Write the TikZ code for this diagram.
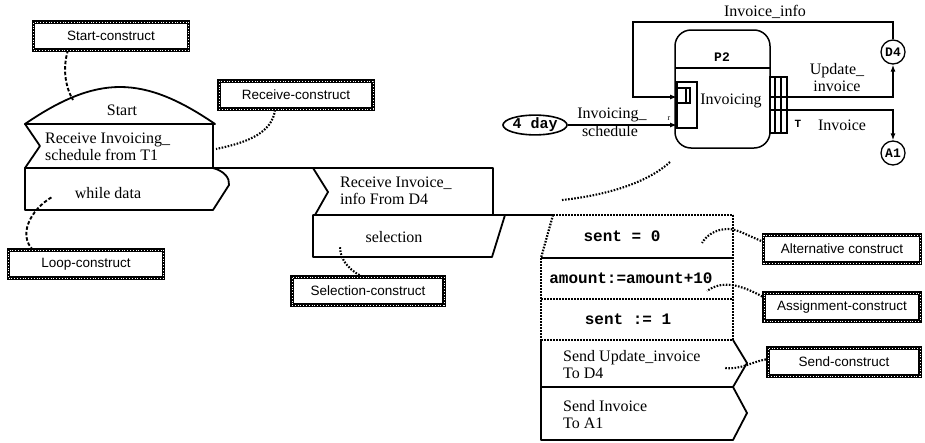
\documentclass[tikz,border=0pt]{standalone}
\usepackage{fontspec}
\setmainfont{Liberation Serif}
\setsansfont{Liberation Sans}
\setmonofont{Liberation Mono}
\usetikzlibrary{arrows.meta,shapes.geometric}
\begin{document}
\begin{tikzpicture}[x=1pt,y=-1pt,
  txt/.style={font=\fontsize{16}{17}\selectfont, inner sep=0pt, align=left},
  ctxt/.style={font=\fontsize{16}{17}\selectfont, inner sep=0pt, align=center},
  code/.style={font=\fontsize{16}{17}\selectfont\ttfamily\bfseries, inner sep=0pt},
  lbl/.style={draw=black, line width=3.8pt, fill=white, font=\fontsize{13.5}{15}\selectfont\sffamily, inner sep=0pt, minimum width=#1, minimum height=28pt, postaction={draw=white, line width=0.9pt, dash pattern=on 0.9pt off 1.9pt}},
  shp/.style={draw=black, line width=1.8pt, line join=round},
  dotbox/.style={draw=black, line width=2.2pt, dash pattern=on 1.6pt off 1.4pt},
  dotcon/.style={draw=black, line width=2.1pt, dash pattern=on 1.6pt off 1.5pt},
  dashcon/.style={draw=black, line width=1.9pt, dash pattern=on 3.5pt off 2pt},
  flow/.style={draw=black, line width=1.3pt},
  tip/.style={-{Latex[length=7pt,width=5pt]}}
]
\useasboundingbox[fill=white] (0,0) rectangle (925,442);

% ---------- left SDL-like blocks ----------
\draw[shp] (25,124) .. controls (60,100) and (90,87) .. (120,87) .. controls (150,87) and (180,100) .. (215,124) -- cycle;
\node[ctxt] (tstart) at (122,110) {Start};
\draw[shp] (25,124) -- (213,124) -- (213,168) -- (25,168) -- (40,146) -- cycle;
\node[txt, anchor=west] (trecv1) at (45,147) {Receive Invoicing\_\\schedule from T1};
\draw[shp] (25,168) -- (213,168) .. controls (224,171) and (230,178) .. (229,185) -- (213,210) -- (25,210) -- cycle;
\node[ctxt] (twhile) at (108,193) {while data};

\coordinate (sp1a) at (213,168);
\coordinate (sp1b) at (313,168);
\draw[shp] (sp1a) -- (sp1b);

\draw[shp] (313,168) -- (493,168) -- (493,215) -- (315,215) -- (328,192) -- cycle;
\node[txt, anchor=west] (trecv2) at (340,191) {Receive Invoice\_\\info From D4};
\draw[shp] (313,215) -- (505,215) -- (492,257) -- (313,257) -- cycle;
\node[ctxt] (tsel) at (394,237) {selection};

\coordinate (sp2a) at (505,215);
\coordinate (sp2b) at (553,215);
\draw[shp] (sp2a) -- (sp2b);

% alternative region
\draw[dotbox] (553,215) -- (733,215);
\draw[dotbox] (553,215) -- (541,258);
\draw[shp] (541,258) -- (733,258);
\draw[dotbox] (733,215) -- (733,340);
\draw[dotbox] (541,258) -- (541,340);
\draw[dotbox] (541,299) -- (733,299);
\draw[dotbox] (541,340) -- (733,340);
\node[code] (talt) at (622,236) {sent = 0};
\node[code] (tasg) at (631,278) {amount:=amount+10};
\node[code] (tset) at (628,319) {sent := 1};

% send blocks
\draw[shp] (733,340) -- (747,363) -- (733,387) -- (541,387) -- (541,340);
\draw[shp] (733,387) -- (747,413) -- (733,440) -- (541,440) -- (541,387);
\node[txt, anchor=west] (tsend1) at (563,365) {Send Update\_invoice\\To D4};
\node[txt, anchor=west] (tsend2) at (563,415) {Send Invoice\\To A1};

% ---------- DFD ----------
\node[draw, rounded corners=16pt, line width=1.5pt, minimum width=95pt, minimum height=118pt, inner sep=0pt] (p2) at (722.5,89) {};
\draw[flow] (675,68) -- (770,68);
\node[code, font=\fontsize{13}{14}\selectfont\ttfamily\bfseries] (p2lbl) at (722,57) {P2};
\node[ctxt] (tinv) at (731,101) {Invoicing};
\node[draw, line width=1.3pt, minimum width=20pt, minimum height=46pt, inner sep=0pt] (ibox) at (687,105) {};
\node[draw, line width=1.3pt, minimum width=13pt, minimum height=15pt, inner sep=0pt] (ib) at (683.5,95.5) {};
\draw[flow] (686,88) -- (686,103);
\node[draw, line width=1.3pt, minimum width=17pt, minimum height=56pt, inner sep=0pt] (stack) at (778.5,105) {};
\draw[flow] (775,77) -- (775,133);
\draw[flow] (781,77) -- (781,133);

\node[circle, draw, line width=1.3pt, minimum size=24pt, inner sep=0pt, font=\fontsize{13}{14}\selectfont\ttfamily\bfseries] (d4) at (893,52) {D4};
\node[circle, draw, line width=1.3pt, minimum size=24pt, inner sep=0pt, font=\fontsize{13}{14}\selectfont\ttfamily\bfseries] (a1) at (893,153) {A1};
\node[ellipse, draw, line width=1.6pt, minimum width=64pt, minimum height=19pt, inner sep=0pt, font=\fontsize{15}{16}\selectfont\ttfamily\bfseries] (day) at (535,125) {4 day};

\coordinate (ii1) at (893,22);
\coordinate (ii2) at (633,22);
\coordinate (ii3) at (633,97);
\coordinate (iin) at (677,97);
\draw[flow, tip] (d4.north) -- (ii1) -- (ii2) -- (ii3) -- (iin);
\coordinate (sin) at (677,125);
\draw[flow, tip] (day.east) -- (sin);
\coordinate (uo) at (770,97);
\coordinate (uc) at (893,97);
\draw[flow, tip] (uo) -- (uc) -- (d4.south);
\coordinate (io) at (770,110);
\coordinate (ic) at (893,110);
\draw[flow, tip] (io) -- (ic) -- (a1.north);

\node[ctxt] (tinfo) at (765,12) {Invoice\_info};
\node[ctxt] (tupd) at (837,78) {Update\_\\invoice};
\node[code, font=\fontsize{11}{12}\selectfont\ttfamily\bfseries] (tT) at (798,124) {T};
\node[ctxt] (tinvo) at (842,125) {Invoice};
\node[ctxt] (tsch1) at (612,115) {Invoicing\_};
\node[ctxt] (tsch2) at (610,131) {schedule};
\node[font=\fontsize{8}{9}\selectfont, inner sep=0pt] (tmark) at (669,119) {r};

% ---------- connector end points ----------
\coordinate (cstart) at (73,100);
\coordinate (crecv) at (216,149);
\coordinate (cloop) at (52,197);
\coordinate (csel) at (340,247);
\coordinate (calt) at (702,243);
\coordinate (casg) at (707,291);
\coordinate (csend) at (725,368);
\coordinate (cproc) at (670,162);
\coordinate (cstruct) at (562,200);

% ---------- label connectors ----------
\draw[dashcon] (68,50) .. controls (62,70) and (66,88) .. (cstart);
\draw[dotcon] (275,110) .. controls (272,132) and (250,142) .. (crecv);
\draw[dashcon] (33,250) .. controls (18,235) and (30,210) .. (cloop);
\draw[dotcon] (365,278) .. controls (352,272) and (340,262) .. (csel);
\draw[dotcon] (764,242) .. controls (748,236) and (738,229) .. (728,229) .. controls (715,229) and (706,236) .. (calt);
\draw[dotcon] (765,298) .. controls (740,284) and (722,280) .. (casg);
\draw[dotcon] (769,359) .. controls (752,361) and (742,370) .. (csend);
\draw[dotcon] (cproc) .. controls (645,185) and (600,196) .. (cstruct);

% ---------- label boxes ----------
\node[lbl=155pt] (lstart) at (111,36) {Start-construct};
\node[lbl=154pt] (lrecv) at (296,95) {Receive-construct};
\node[lbl=155pt] (lloop) at (86,264) {Loop-construct};
\node[lbl=152pt] (lsel) at (368,291) {Selection-construct};
\node[lbl=157pt] (lalt) at (842,249) {Alternative construct};
\node[lbl=156pt] (lasg) at (842,307) {Assignment-construct};
\node[lbl=152pt] (lsend) at (844,362) {Send-construct};
\end{tikzpicture}
\end{document}
